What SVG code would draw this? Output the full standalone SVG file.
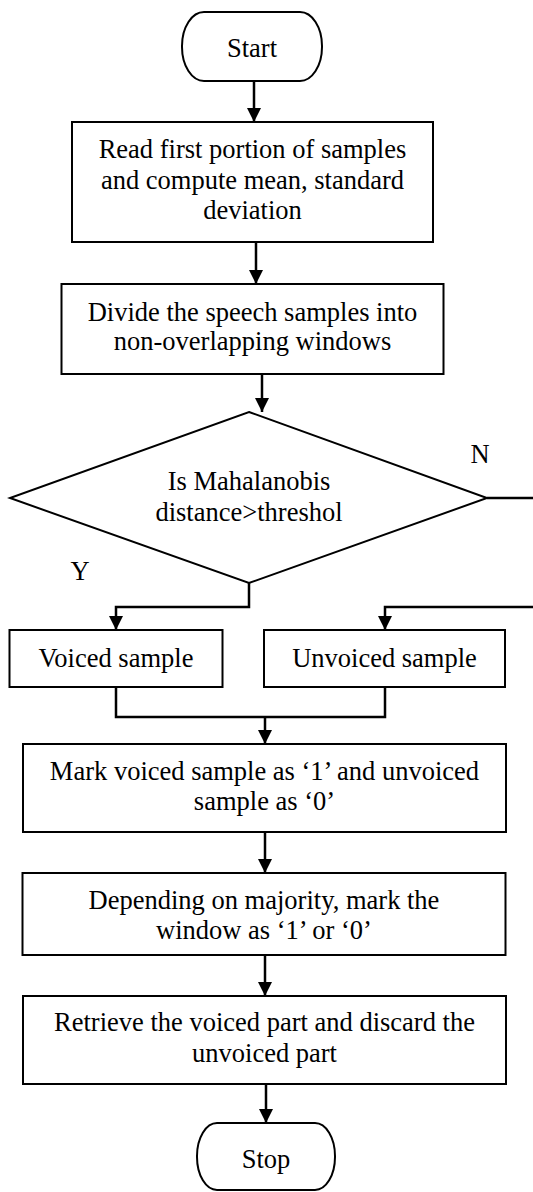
<svg xmlns="http://www.w3.org/2000/svg" width="533" height="1192" viewBox="0 0 533 1192">
  <style>
    .shape { fill: #ffffff; stroke: #000000; stroke-width: 2; }
    .wire { fill: none; stroke: #000000; stroke-width: 2.5; }
    .label { font-family: "Liberation Serif", "Times New Roman", serif; font-size: 26.5px; fill: #000000; text-anchor: middle; }
  </style>
  <defs>
    <marker id="arrow" viewBox="0 0 14 14" refX="14" refY="7" markerWidth="14" markerHeight="14" markerUnits="userSpaceOnUse" orient="auto">
      <path d="M0,0 L14,7 L0,14 Z" fill="#000000"/>
    </marker>
  </defs>
  <rect width="533" height="1192" fill="#ffffff"/>

  <!-- connectors -->
  <g id="connectors">
    <line class="wire" x1="254" y1="81" x2="254" y2="122" marker-end="url(#arrow)"/>
    <line class="wire" x1="256" y1="243" x2="256" y2="284" marker-end="url(#arrow)"/>
    <line class="wire" x1="262" y1="374" x2="262" y2="412" marker-end="url(#arrow)"/>
    <!-- yes branch -->
    <polyline class="wire" points="249,583 249,607 116,607 116,630" marker-end="url(#arrow)"/>
    <!-- no branch -->
    <line class="wire" x1="487" y1="498" x2="533" y2="498"/>
    <polyline class="wire" points="533,607 385,607 385,630" marker-end="url(#arrow)"/>
    <!-- merge -->
    <polyline class="wire" points="116,688 116,717 385,717 385,688"/>
    <line class="wire" x1="265" y1="717" x2="265" y2="744" marker-end="url(#arrow)"/>
    <line class="wire" x1="265" y1="832" x2="265" y2="873" marker-end="url(#arrow)"/>
    <line class="wire" x1="265" y1="955" x2="265" y2="996" marker-end="url(#arrow)"/>
    <line class="wire" x1="266" y1="1084" x2="266" y2="1123" marker-end="url(#arrow)"/>
  </g>

  <g id="start">
    <rect class="shape" x="182" y="12" width="140" height="69" rx="22" ry="34"/>
    <text class="label" x="252" y="57">Start</text>
  </g>

  <g id="read-samples">
    <rect class="shape" x="72" y="122" width="361" height="120"/>
    <text class="label" x="252.5" y="158">Read first portion of samples</text>
    <text class="label" x="252.5" y="188.5">and compute mean, standard</text>
    <text class="label" x="252.5" y="219">deviation</text>
  </g>

  <g id="divide-windows">
    <rect class="shape" x="61.5" y="284" width="382" height="90"/>
    <text class="label" x="252.5" y="320.5">Divide the speech samples into</text>
    <text class="label" x="252.5" y="350">non-overlapping windows</text>
  </g>

  <g id="decision">
    <polygon class="shape" points="249,412 487,498 249,583 10,498"/>
    <text class="label" x="249" y="490">Is Mahalanobis</text>
    <text class="label" x="249" y="521">distance&gt;threshol</text>
  </g>

  <g id="branch-labels">
    <text class="label" x="480" y="463">N</text>
    <text class="label" x="80" y="580">Y</text>
  </g>

  <g id="voiced">
    <rect class="shape" x="9.5" y="630" width="213" height="57"/>
    <text class="label" x="116" y="667">Voiced sample</text>
  </g>

  <g id="unvoiced">
    <rect class="shape" x="264" y="630" width="241" height="57"/>
    <text class="label" x="384.5" y="667">Unvoiced sample</text>
  </g>

  <g id="mark-samples">
    <rect class="shape" x="23" y="744" width="483" height="88"/>
    <text class="label" x="264.5" y="780">Mark voiced sample as ‘1’ and unvoiced</text>
    <text class="label" x="264.5" y="810">sample as ‘0’</text>
  </g>

  <g id="mark-window">
    <rect class="shape" x="22.5" y="873" width="483" height="82"/>
    <text class="label" x="264" y="909">Depending on majority, mark the</text>
    <text class="label" x="264" y="939">window as ‘1’ or ‘0’</text>
  </g>

  <g id="retrieve">
    <rect class="shape" x="23" y="996" width="483" height="88"/>
    <text class="label" x="264.5" y="1031">Retrieve the voiced part and discard the</text>
    <text class="label" x="264.5" y="1062">unvoiced part</text>
  </g>

  <g id="stop">
    <rect class="shape" x="197" y="1123" width="138" height="67" rx="20" ry="33"/>
    <text class="label" x="266" y="1168">Stop</text>
  </g>
</svg>
